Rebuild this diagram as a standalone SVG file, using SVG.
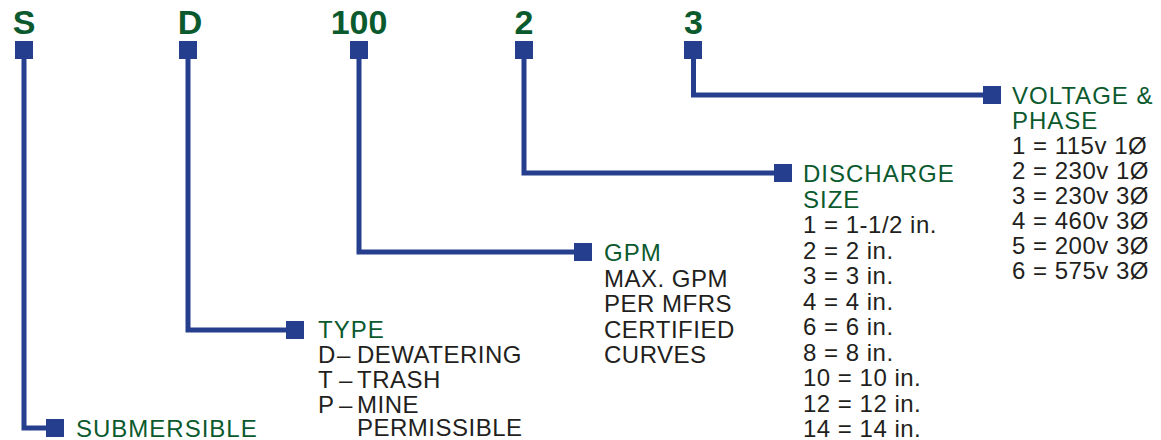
<svg xmlns="http://www.w3.org/2000/svg" width="1161" height="440" viewBox="0 0 1161 440">
<style>
.bg{fill:#ffffff}
.code{font-family:"Liberation Sans",Arial,sans-serif;font-weight:bold;font-size:34px;fill:#0b5a2e;text-anchor:middle}
.head{font-family:"Liberation Sans",Arial,sans-serif;font-size:24px;letter-spacing:1px;fill:#0b5a2e}
.body{font-family:"Liberation Sans",Arial,sans-serif;font-size:24px;letter-spacing:0.5px;fill:#231f20}
.sq{fill:#253f8e}
.conn{fill:none;stroke:#253f8e;stroke-width:5;stroke-linejoin:miter;stroke-linecap:butt}
</style>
<rect class="bg" x="0" y="0" width="1161" height="440"/>
<g id="connectors">
<path class="conn" d="M24,58 V428 H47"/>
<path class="conn" d="M188,58 V330 H287"/>
<path class="conn" d="M359,58 V252 H575"/>
<path class="conn" d="M524,58 V173 H775"/>
<path class="conn" d="M693.5,58 V95 H984"/>
</g>
<g id="node-s">
<text class="code" x="24" y="34">S</text>
<rect class="sq" x="15" y="41" width="18" height="18"/>
<rect class="sq" x="46" y="419" width="18" height="18"/>
<text class="head" x="76" y="437">SUBMERSIBLE</text>
</g>
<g id="node-d">
<text class="code" x="190" y="34">D</text>
<rect class="sq" x="179" y="41" width="18" height="18"/>
<rect class="sq" x="286" y="321" width="18" height="18"/>
<text class="head" x="318" y="338">TYPE</text>
<text class="body" x="318" y="363">D<tspan x="337">–</tspan><tspan x="357">DEWATERING</tspan></text>
<text class="body" x="318" y="388">T<tspan x="339">–</tspan><tspan x="357">TRASH</tspan></text>
<text class="body" x="318" y="413">P<tspan x="339">–</tspan><tspan x="357">MINE</tspan></text>
<text class="body" x="357" y="436">PERMISSIBLE</text>
</g>
<g id="node-100">
<text class="code" x="359" y="34">100</text>
<rect class="sq" x="350" y="41" width="18" height="18"/>
<rect class="sq" x="574" y="243" width="18" height="18"/>
<text class="head" x="604" y="261">GPM</text>
<text class="body" x="604" y="286.5">MAX. GPM</text>
<text class="body" x="604" y="312">PER MFRS</text>
<text class="body" x="604" y="337.5">CERTIFIED</text>
<text class="body" x="604" y="363">CURVES</text>
</g>
<g id="node-2">
<text class="code" x="524" y="34">2</text>
<rect class="sq" x="515" y="41" width="18" height="18"/>
<rect class="sq" x="774" y="164" width="18" height="18"/>
<text class="head" x="803" y="182">DISCHARGE</text>
<text class="head" x="803" y="207.5">SIZE</text>
<text class="body" x="803" y="233">1 = 1-1/2 in.</text>
<text class="body" x="803" y="258.5">2 = 2 in.</text>
<text class="body" x="803" y="284">3 = 3 in.</text>
<text class="body" x="803" y="309.5">4 = 4 in.</text>
<text class="body" x="803" y="335">6 = 6 in.</text>
<text class="body" x="803" y="360.5">8 = 8 in.</text>
<text class="body" x="803" y="386">10 = 10 in.</text>
<text class="body" x="803" y="411.5">12 = 12 in.</text>
<text class="body" x="803" y="437">14 = 14 in.</text>
</g>
<g id="node-3">
<text class="code" x="693.5" y="34">3</text>
<rect class="sq" x="684" y="41" width="18" height="18"/>
<rect class="sq" x="983" y="86" width="18" height="18"/>
<text class="head" x="1012" y="104">VOLTAGE &amp;</text>
<text class="head" x="1012" y="129">PHASE</text>
<text class="body" x="1012" y="154">1 = 115v 1Ø</text>
<text class="body" x="1012" y="179">2 = 230v 1Ø</text>
<text class="body" x="1012" y="204">3 = 230v 3Ø</text>
<text class="body" x="1012" y="229">4 = 460v 3Ø</text>
<text class="body" x="1012" y="254">5 = 200v 3Ø</text>
<text class="body" x="1012" y="279">6 = 575v 3Ø</text>
</g>
</svg>
